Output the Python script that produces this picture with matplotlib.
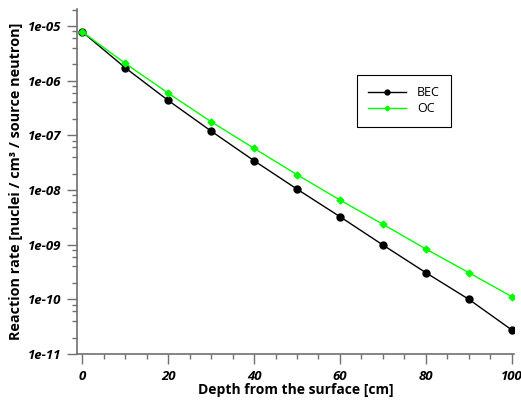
import numpy as np
import matplotlib
matplotlib.use("Agg")
import matplotlib.pyplot as plt
from matplotlib.ticker import LogLocator, MultipleLocator, FuncFormatter, NullFormatter

plt.rcParams['font.family'] = ['Open Sans', 'DejaVu Sans']

# data
depth = [0, 10, 20, 30, 40, 50, 60, 70, 80, 90, 100]
bec = [7.86e-6, 1.73e-6, 4.37e-7, 1.20e-7, 3.44e-8, 1.04e-8,
       3.25e-9, 9.86e-10, 3.07e-10, 1.00e-10, 2.75e-11]
oc = [7.86e-6, 2.08e-6, 5.95e-7, 1.78e-7, 5.79e-8, 1.91e-8,
      6.56e-9, 2.36e-9, 8.34e-10, 3.07e-10, 1.12e-10]
labels = ['BEC', 'OC']

fig = plt.figure(figsize=(5.21, 4.0), dpi=100)
ax = fig.add_axes([77/521, 1-354/400, (514-77)/521, (354-9)/400])

ax.plot(depth, bec, color='black', marker='o', markersize=5, lw=1, label=labels[0])
ax.plot(depth, oc, color='#00ff00', marker='D', markersize=3.5, lw=1, label=labels[1])

ax.set_yscale('log')
ax.set_xlim(-1.2, 100.5)
ax.set_ylim(1e-11, 2.05e-5)

ax.yaxis.set_major_locator(LogLocator(base=10, numticks=20))
ax.yaxis.set_minor_locator(LogLocator(base=10, subs=(2, 4, 6, 8), numticks=20))
ax.yaxis.set_major_formatter(FuncFormatter(lambda v, p: '%.0e' % v))
ax.yaxis.set_minor_formatter(NullFormatter())
ax.xaxis.set_major_locator(MultipleLocator(20))
ax.xaxis.set_minor_locator(MultipleLocator(5))

spine_col = '#707070'
for s in ['top', 'right']:
    ax.spines[s].set_visible(False)
for s in ['left', 'bottom']:
    ax.spines[s].set_color(spine_col)
    ax.spines[s].set_linewidth(1.2)

ax.tick_params(which='major', direction='out', length=7, width=1, color=spine_col)
ax.tick_params(which='minor', direction='out', length=3.8, width=1, color=spine_col)
ax.tick_params(axis='y', which='major', pad=4.5)
ax.tick_params(axis='x', which='major', pad=4.5)
for t in ax.get_xticklabels() + ax.get_yticklabels():
    t.set_fontweight('bold')
    t.set_fontstyle('italic')
    t.set_fontsize(9.5)

ax.set_xlabel('Depth from the surface [cm]', fontsize=10, fontweight='bold', labelpad=0)
ax.set_ylabel('Reaction rate [nuclei / cm³ / source neutron]', fontsize=10.4,
              fontweight='bold', labelpad=3)

leg = ax.legend(loc='upper left', bbox_to_anchor=(357/521, 1-75/400),
                bbox_transform=fig.transFigure, fancybox=False, framealpha=1,
                edgecolor='black', fontsize=9, handlelength=3.0, borderpad=0.9,
                labelspacing=0.25, handletextpad=0.9, markerscale=0.7,
                borderaxespad=0)
leg.get_frame().set_linewidth(0.8)

fig.savefig('out.png', dpi=100)
